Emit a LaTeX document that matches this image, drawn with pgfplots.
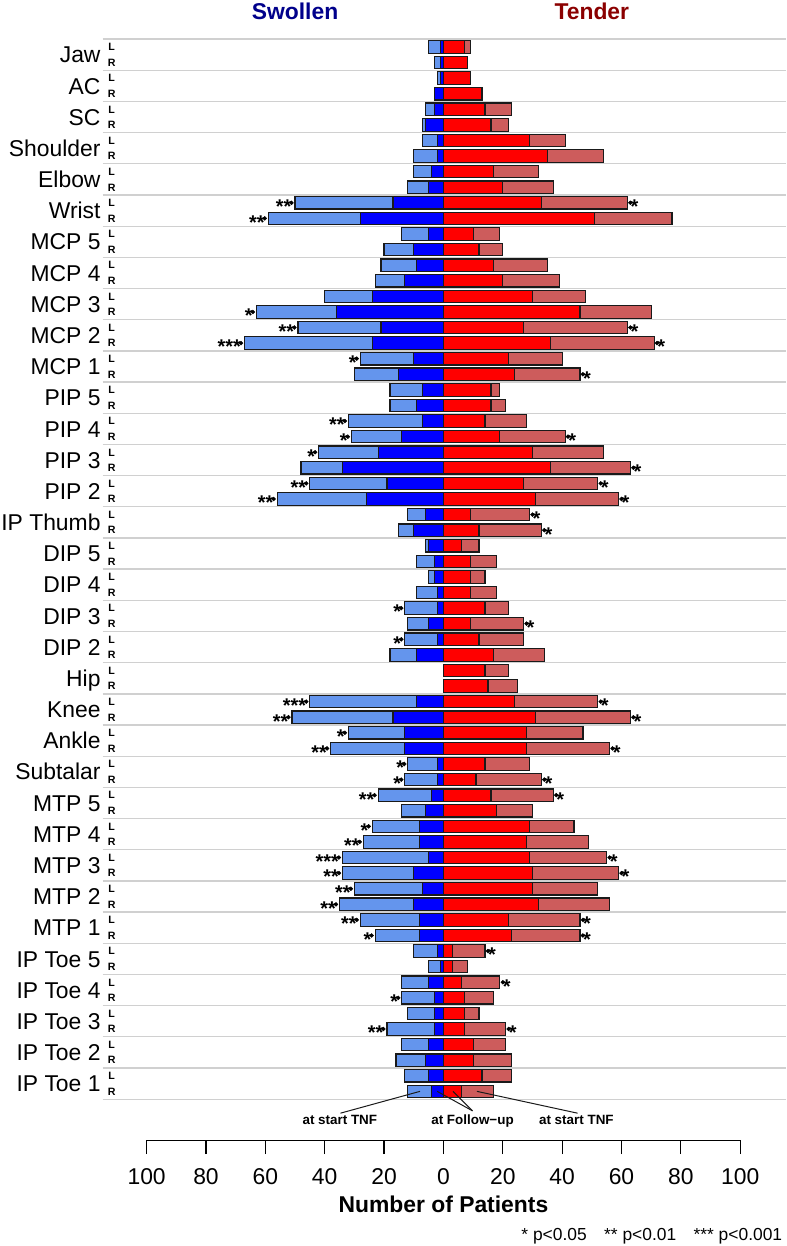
\documentclass[border=0pt]{standalone}
\usepackage{fontspec}
\setmainfont{Liberation Sans}
\usepackage{pgfplots}
\usepackage{pgfplotstable}
\pgfplotsset{compat=1.18}
\definecolor{lblue}{HTML}{6495ED}
\definecolor{dblue}{HTML}{0000FF}
\definecolor{dred}{HTML}{FF0000}
\definecolor{lred}{HTML}{CD5C5C}
\definecolor{outl}{HTML}{1A1A1A}
\definecolor{sepc}{HTML}{D0D0D0}
\definecolor{swol}{HTML}{00008B}
\definecolor{tend}{HTML}{8B0000}
\newcommand\fs[1]{\fontsize{#1}{#1}\selectfont}

% i = bar index from top (L,R per joint); sS/sF swollen at start / follow-up; tS/tF tender at start / follow-up
\pgfplotstableread{
i sS sF tS tF
0 -5 -1 9 7
1 -3 -1 8 8
2 -2 -1 9 9
3 -3 -3 13 13
4 -6 -3 23 14
5 -7 -6 22 16
6 -7 -2 41 29
7 -10 -2 54 35
8 -10 -4 32 17
9 -12 -5 37 20
10 -50 -17 62 33
11 -59 -28 77 51
12 -14 -5 19 10
13 -20 -10 20 12
14 -21 -9 35 17
15 -23 -13 39 20
16 -40 -24 48 30
17 -63 -36 70 46
18 -49 -21 62 27
19 -67 -24 71 36
20 -28 -10 40 22
21 -30 -15 46 24
22 -18 -7 19 16
23 -18 -9 21 16
24 -32 -7 28 14
25 -31 -14 41 19
26 -42 -22 54 30
27 -48 -34 63 36
28 -45 -19 52 27
29 -56 -26 59 31
30 -12 -6 29 9
31 -15 -10 33 12
32 -6 -5 12 6
33 -9 -3 18 9
34 -5 -3 14 9
35 -9 -2 18 9
36 -13 -2 22 14
37 -12 -5 27 9
38 -13 -2 27 12
39 -18 -9 34 17
40 0 0 22 14
41 0 0 25 15
42 -45 -9 52 24
43 -51 -17 63 31
44 -32 -13 47 28
45 -38 -13 56 28
46 -12 -2 29 14
47 -13 -2 33 11
48 -22 -4 37 16
49 -14 -6 30 18
50 -24 -8 44 29
51 -27 -8 49 28
52 -34 -5 55 29
53 -34 -10 59 30
54 -30 -7 52 30
55 -35 -10 56 32
56 -28 -8 46 22
57 -23 -8 46 23
58 -10 -2 14 3
59 -5 -1 8 3
60 -14 -5 19 6
61 -14 -3 17 7
62 -12 -3 12 7
63 -19 -3 21 7
64 -14 -5 21 10
65 -16 -6 23 10
66 -13 -5 23 13
67 -12 -4 17 6
}\jdata

\pgfplotstableread{
i v lab
10 -50 **
11 -59 **
17 -63 *
18 -49 **
19 -67 ***
20 -28 *
24 -32 **
25 -31 *
26 -42 *
28 -45 **
29 -56 **
36 -13 *
38 -13 *
42 -45 ***
43 -51 **
44 -32 *
45 -38 **
46 -12 *
47 -13 *
48 -22 **
50 -24 *
51 -27 **
52 -34 ***
53 -34 **
54 -30 **
55 -35 **
56 -28 **
57 -23 *
61 -14 *
63 -19 **
}\lstars

\pgfplotstableread{
i v lab
10 62 *
18 62 *
19 71 *
21 46 *
25 41 *
27 63 *
28 52 *
29 59 *
30 29 *
31 33 *
37 27 *
42 52 *
43 63 *
45 56 *
47 33 *
48 37 *
52 55 *
53 59 *
56 46 *
57 46 *
58 14 *
60 19 *
63 21 *
}\rstars

\begin{document}
\begin{tikzpicture}
\begin{axis}[
  x=2.974bp, y=15.62bp,
  xmin=-114.8, xmax=115.5, ymin=-67.6, ymax=0.6,
  clip=false,
  axis line style={draw=none},
  xtick=\empty,
  ytick={-0.5,-2.5,...,-66.5},
  yticklabels={Jaw,AC,SC,Shoulder,Elbow,Wrist,MCP 5,MCP 4,MCP 3,MCP 2,MCP 1,PIP 5,PIP 4,PIP 3,PIP 2,IP Thumb,DIP 5,DIP 4,DIP 3,DIP 2,Hip,Knee,Ankle,Subtalar,MTP 5,MTP 4,MTP 3,MTP 2,MTP 1,IP Toe 5,IP Toe 4,IP Toe 3,IP Toe 2,IP Toe 1},
  yticklabel style={font=\fs{23}, anchor=base east, inner sep=0pt, xshift=-2bp, yshift=-8.2bp},
  major tick length=0pt,
  ytick style={draw=none},
  extra y ticks={0.5,-1.5,...,-67.5},
  extra y tick labels={},
  extra y tick style={grid=major, major grid style={line width=1.3bp, color=sepc}, tick style={draw=none}},
]
\addplot[xbar, bar width=12.5bp, bar shift=0pt, fill=lblue, draw=outl, line width=1.2bp] table[x=sS, y expr=-\thisrow{i}] {\jdata};
\addplot[xbar, bar width=12.5bp, bar shift=0pt, fill=dblue, draw=outl, line width=1.2bp] table[x=sF, y expr=-\thisrow{i}] {\jdata};
\addplot[xbar, bar width=12.5bp, bar shift=0pt, fill=lred, draw=outl, line width=1.2bp] table[x=tS, y expr=-\thisrow{i}] {\jdata};
\addplot[xbar, bar width=12.5bp, bar shift=0pt, fill=dred, draw=outl, line width=1.2bp] table[x=tF, y expr=-\thisrow{i}] {\jdata};

\addplot[only marks, mark=*, mark options={draw=none, fill=none}, point meta=explicit symbolic, nodes near coords,
  every node near coord/.append style={font=\bfseries\fs{20}, anchor=east, inner sep=0pt, yshift=-4bp}]
  table[x expr=\thisrow{v}-1.2, y expr=-\thisrow{i}, meta=lab] {\lstars};
\addplot[only marks, mark=*, mark options={draw=none, fill=none}, point meta=explicit symbolic, nodes near coords,
  every node near coord/.append style={font=\bfseries\fs{20}, anchor=west, inner sep=0pt, yshift=-4bp}]
  table[x expr=\thisrow{v}+1.0, y expr=-\thisrow{i}, meta=lab] {\rstars};

\pgfplotsinvokeforeach{0,...,33}{
  \node[font=\bfseries\fs{10.7}, anchor=base, inner sep=0pt, yshift=-3.8bp] at (axis cs:-111.8,-2*#1) {L};
  \node[font=\bfseries\fs{10.7}, anchor=base, inner sep=0pt, yshift=-3.8bp] at (axis cs:-111.8,-2*#1-1) {R};
}

\node[font=\bfseries\fs{23}, text=swol] at (axis cs:-50,2.26) {Swollen};
\node[font=\bfseries\fs{23}, text=tend] at (axis cs:50,2.26) {Tender};

\draw[line width=1bp, outl] (axis cs:-34.7,-68.4) -- (axis cs:-7.9,-67);
\draw[line width=1bp, outl] (axis cs:9.8,-68.25) -- (axis cs:-2.1,-67);
\draw[line width=1bp, outl] (axis cs:9.8,-68.25) -- (axis cs:3.2,-67);
\draw[line width=1bp, outl] (axis cs:45.2,-68.4) -- (axis cs:11.3,-67);
\node[font=\bfseries\fs{13.5}, anchor=base, inner sep=0pt, yshift=-4.8bp] at (axis cs:-34.9,-68.8) {at start TNF};
\node[font=\bfseries\fs{13.5}, anchor=base, inner sep=0pt, yshift=-4.8bp] at (axis cs:9.8,-68.8) {at Follow−up};
\node[font=\bfseries\fs{13.5}, anchor=base, inner sep=0pt, yshift=-4.8bp] at (axis cs:44.8,-68.8) {at start TNF};

\node[font=\fs{17.5}, anchor=base east, inner sep=0pt] at (axis cs:114.2,-76.54) {* p<0.05\quad ** p<0.01\quad *** p<0.001};

\coordinate (BL) at (axis cs:-149.4,-76.92);
\coordinate (TR) at (axis cs:115.57,2.849);
\coordinate (XA) at (axis cs:-100,-70.13);
\end{axis}

\begin{axis}[
  at={(XA)}, anchor=south west,
  x=2.974bp, y=1bp,
  xmin=-100, xmax=100, ymin=0, ymax=1,
  axis x line*=bottom, axis y line=none,
  axis line style={-, line width=1.2bp, black},
  ytick=\empty,
  xtick={-100,-80,...,100},
  xticklabels={100,80,60,40,20,0,20,40,60,80,100},
  xtick align=outside,
  major tick length=14bp,
  xtick style={line width=1.2bp, black},
  xticklabel style={font=\fs{23}, inner sep=0pt, anchor=north, yshift=-14bp},
  xlabel={Number of Patients},
  xlabel style={font=\bfseries\fs{23}, at={(axis description cs:0.5,0)}, anchor=center, yshift=-64bp},
]
\end{axis}
\path (BL) rectangle (TR);
\end{tikzpicture}
\end{document}
